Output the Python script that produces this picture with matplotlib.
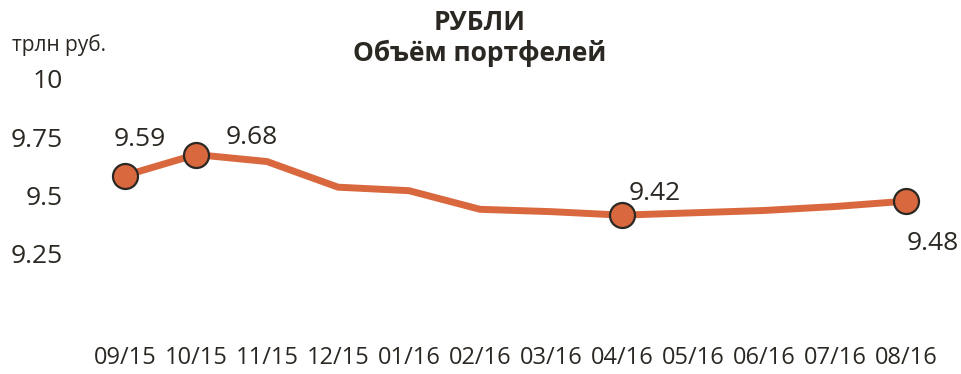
import matplotlib
matplotlib.use("Agg")
import matplotlib.pyplot as plt
from matplotlib import font_manager

# Portfolio volume, rubles (trillion)
months = ["09/15", "10/15", "11/15", "12/15", "01/16", "02/16",
          "03/16", "04/16", "05/16", "06/16", "07/16", "08/16"]
values = [9.59, 9.68, 9.65, 9.54, 9.525, 9.445,
          9.435, 9.42, 9.43, 9.44, 9.457, 9.48]
y_ticks = [9.25, 9.5, 9.75, 10]
y_tick_labels = ["9.25", "9.5", "9.75", "10"]
marked = {0: "9.59", 1: "9.68", 7: "9.42", 11: "9.48"}

TEXT = "#2b2722"
LINE = "#d9683f"

W, H = 961, 374
fig = plt.figure(figsize=(W / 100, H / 100), dpi=100)
fig.patch.set_facecolor("white")

# axes placed so that index 0..11 spans the plotted width and y 9..10 the height
x0, x1 = 125, 906
y_top, y_bot = 80, 313
ax = fig.add_axes([x0 / W, (H - y_bot) / H, (x1 - x0) / W, (y_bot - y_top) / H])
ax.set_xlim(0, len(months) - 1)
ax.set_ylim(9.0, 10.0)
for s in ax.spines.values():
    s.set_visible(False)
ax.set_xticks([])
ax.set_yticks([])

px = 1 / 233  # one pixel in y data units

xs = list(range(len(months)))
ax.plot(xs, values, color=LINE, lw=5, solid_joinstyle="miter", clip_on=False, zorder=2)
mx = list(marked.keys())
ax.plot(mx, [values[i] for i in mx], linestyle="none", marker="o", ms=18,
        mfc=LINE, mec=TEXT, mew=1.6, clip_on=False, zorder=3)

# y tick labels
for v, t in zip(y_ticks, y_tick_labels):
    ax.text(-62 / 71, v - 2 * px, t, ha="right", va="center", fontsize=19,
            family="Open Sans", color=TEXT, clip_on=False)

# x tick labels
for i, m in enumerate(months):
    ax.text(i, 9.0 - 45 * px, m, ha="center", va="center", fontsize=17,
            family="Open Sans", color=TEXT, clip_on=False)

# value labels
offsets = {0: (0.21, 0.155), 1: (0.79, 0.072),
           7: (0.46, 0.092), 11: (0.37, -0.18)}
for i, lab in marked.items():
    dx, dy = offsets[i]
    ax.text(i + dx, values[i] + dy, lab, ha="center", va="center", fontsize=19,
            family="Open Sans", color=TEXT, clip_on=False)

fig.text(12 / W, 1 - 45 / H, "трлн руб.", ha="left", va="center", fontsize=15,
         family="Open Sans", color=TEXT)
fig.text(480 / W, 1 - 22 / H, "РУБЛИ", ha="center", va="center", fontsize=19,
         family="Open Sans", fontweight="bold", color=TEXT)
fig.text(480 / W, 1 - 53 / H, "Объём портфелей", ha="center", va="center", fontsize=19,
         family="Open Sans", fontweight="bold", color=TEXT)

fig.savefig("out.png", dpi=100, facecolor="white")
